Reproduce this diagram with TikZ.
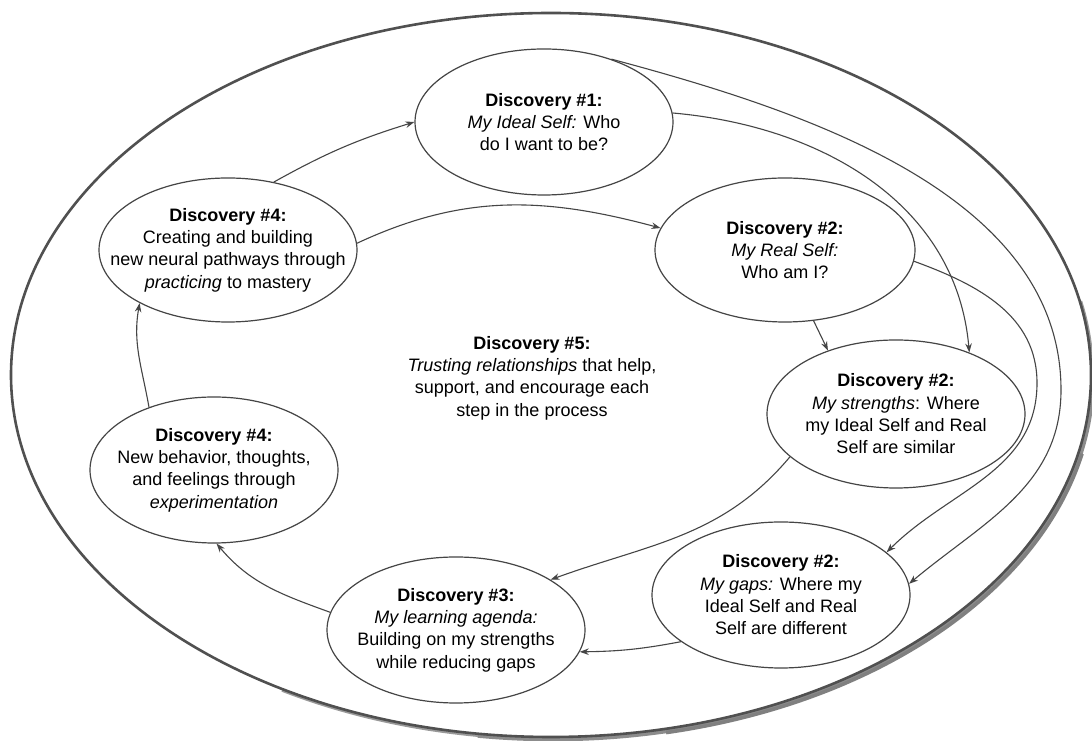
\documentclass[tikz,border=0pt]{standalone}
\usepackage{fontspec}
\setmainfont{Liberation Sans}
\usetikzlibrary{arrows.meta,shapes.geometric}
\definecolor{ln}{HTML}{454545}
\definecolor{outerc}{HTML}{505050}
\begin{document}
\begin{tikzpicture}[x=1pt,y=1pt,
  disc/.style={ellipse, draw=ln, line width=1.2pt, inner sep=0pt},
  txt/.style={align=center, font=\fontsize{18}{22.3}\selectfont, inner sep=0pt},
  arr/.style={draw=ln, line width=1.1pt, -{Stealth[length=9pt,width=6.5pt]}},
  shad/.style={line width=3.6pt},
]
\useasboundingbox (0,0) rectangle (1092,741);
\fill[white] (0,0) rectangle (1092,741);
% outer ellipse with soft shadow on lower right
\draw[shad, black!40] ([shift={(240:540 and 362)}]552.2,364.5) arc[start angle=240, end angle=372, x radius=540, y radius=362];
\draw[shad, black!45] ([shift={(262:540 and 362)}]553,363.5) arc[start angle=262, end angle=362, x radius=540, y radius=362];
\draw[shad, black!50] ([shift={(282:540 and 362)}]553.8,362.5) arc[start angle=282, end angle=348, x radius=540, y radius=362];
\draw[outerc, line width=2.6pt] (551,366) ellipse [x radius=540, y radius=362];
% ellipses
\node[disc, minimum width=258, minimum height=146] (n1) at (544,619) {};
\node[disc, minimum width=260, minimum height=144] (n2) at (785,491) {};
\node[disc, minimum width=258, minimum height=144] (n3) at (228,491) {};
\node[disc, minimum width=258, minimum height=148] (n4) at (896,327) {};
\node[disc, minimum width=248, minimum height=146] (n5) at (214,271) {};
\node[disc, minimum width=258, minimum height=146] (n6) at (456,111) {};
\node[disc, minimum width=258, minimum height=146] (n7) at (781,146) {};
% texts
\node[txt] (t1) at (n1) {\textbf{Discovery \#1:}\\ \textit{My Ideal Self:} Who\\ do I want to be?};
\node[txt] (t2) at (n2) {\textbf{Discovery \#2:}\\ \textit{My Real Self:}\\ Who am I?};
\node[txt] (t3) at (n3) {\textbf{Discovery \#4:}\\ Creating and building\\ new neural pathways through\\ \textit{practicing} to mastery};
\node[txt] (t4) at (n4) {\textbf{Discovery \#2:}\\ \textit{My strengths}: Where\\ my Ideal Self and Real\\ Self are similar};
\node[txt] (t5) at (n5) {\textbf{Discovery \#4:}\\ New behavior, thoughts,\\ and feelings through\\ \textit{experimentation}};
\node[txt] (t6) at (n6) {\textbf{Discovery \#3:}\\ \textit{My learning agenda:}\\ Building on my strengths\\ while reducing gaps};
\node[txt] (t7) at (n7) {\textbf{Discovery \#2:}\\ \textit{My gaps:} Where my\\ Ideal Self and Real\\ Self are different};
\node[txt] (t8) at (532,363) {\textbf{Discovery \#5:}\\ \textit{Trusting relationships} that help,\\ support, and encourage each\\ step in the process};
% waypoints
\coordinate (we) at (1061,351);
\coordinate (wg) at (1037,358);
% connectors
\draw[arr] (n3.56) to[bend left=6] (n1.180);
\draw[arr] (n3.3) to[out=25,in=165] (n2.170);
\draw[arr] (n2.-68) -- (n4.137);
\draw[arr] (n1.4) to[out=-5,in=95] (n4.40);
\draw[arr] (n1.43) to[out=-15,in=90,looseness=0.9] (we) to[out=-90,in=40] (n7.5);
\draw[arr] (n2.-5) to[out=-20,in=90] (wg) to[out=-90,in=45] (n7.22);
\draw[arr] (n4.202) to[out=230,in=20] (n6.28);
\draw[arr] (n7.205) to[bend left=5] (n6.-10);
\draw[arr] (n6.172) to[out=160,in=-50] (n5.-88);
\draw[arr] (n5.136) to[out=100,in=-100] (n3.211);
\end{tikzpicture}
\end{document}
